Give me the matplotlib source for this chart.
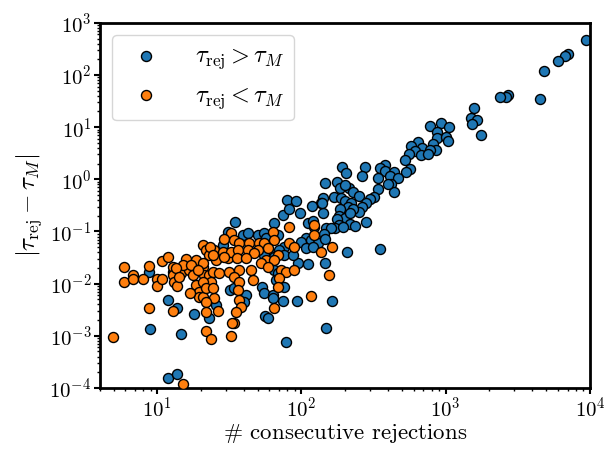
import matplotlib
matplotlib.use("Agg")
import matplotlib.pyplot as plt
from matplotlib.ticker import NullFormatter
import numpy as np

plt.rcParams['font.family'] = 'serif'
plt.rcParams['font.serif'] = ['cmr10']
plt.rcParams['mathtext.fontset'] = 'cm'
plt.rcParams['axes.formatter.use_mathtext'] = True

# tau_rej > tau_M
blue_x = [9380, 7060, 6730, 5970, 4770, 4480, 2710, 2600, 2370, 1570,
          1510, 1650, 1530, 1770, 774, 923, 1050, 871, 874, 1010,
          1040, 822, 644, 574, 689, 857, 774, 617, 556, 674,
          754, 519, 381, 277, 192, 204, 262, 348, 377, 435,
          562, 527, 408, 466, 339, 415, 440, 397, 145, 177,
          186, 213, 226, 199, 169, 187, 250, 339, 321, 297,
          281, 202, 219, 211, 262, 250, 227, 186, 141, 137,
          142, 183, 202, 216, 176, 182, 172, 149, 161, 218,
          237, 281, 194, 144, 206, 348, 79.6, 91.8, 118, 138,
          74.1, 98.4, 64.9, 111, 120, 122, 34.7, 31.6, 39.1, 42.4,
          49.8, 55.4, 56.9, 68.4, 108, 99.5, 117, 130, 145, 107,
          120, 76.2, 70.3, 59.9, 64.9, 76.2, 94.2, 111, 145, 55.4,
          87.1, 64.3, 74.1, 68.4, 66.7, 76.2, 53.3, 55.4, 63.2, 32.1,
          34.3, 41.3, 40.2, 75.0, 92.7, 163, 56.2, 58.3, 149, 78.3,
          81.7, 8.80, 11.8, 13.8, 17.9, 23.0, 25.6, 8.87, 14.6, 28.4,
          30.8, 12.8, 11.8, 13.8, 63.2]
blue_y = [466, 258, 233, 187, 122, 35.3, 41.6, 37.6, 38.6, 23.1,
          15.3, 13.6, 11.4, 7.21, 10.6, 11.8, 9.9, 8.12, 6.31, 6.51,
          5.46, 4.84, 5.29, 4.32, 4.01, 3.72, 3.62, 3.56, 3.11, 2.98,
          3.03, 2.36, 1.89, 1.71, 1.71, 1.35, 1.18, 1.63, 1.47, 1.37,
          1.56, 1.37, 1.18, 1.05, 1.05, 0.817, 0.581, 0.817, 0.843, 0.904,
          0.693, 0.676, 0.581, 0.782, 0.454, 0.434, 0.488, 0.655, 0.467, 0.416,
          0.358, 0.391, 0.348, 0.300, 0.300, 0.240, 0.267, 0.267, 0.434, 0.358,
          0.224, 0.201, 0.180, 0.224, 0.172, 0.134, 0.115, 0.115, 0.115, 0.138,
          0.128, 0.152, 0.124, 0.0898, 0.0411, 0.0469, 0.403, 0.385, 0.309, 0.358,
          0.208, 0.230, 0.148, 0.148, 0.160, 0.124, 0.155, 0.0951, 0.0859, 0.0927,
          0.0859, 0.0927, 0.0743, 0.0859, 0.0743, 0.0640, 0.0689, 0.0596, 0.0711, 0.0478,
          0.0513, 0.0513, 0.0443, 0.0411, 0.0330, 0.0355, 0.0246, 0.0239, 0.0246, 0.0355,
          0.0355, 0.0183, 0.0170, 0.0158, 0.0118, 0.00875, 0.00875, 0.00663, 0.00607, 0.00757,
          0.00817, 0.00607, 0.00452, 0.00472, 0.00472, 0.00472, 0.00240, 0.00217, 0.00140, 0.000773,
          0.271, 0.0166, 0.00487, 0.00347, 0.00259, 0.00217, 0.00391, 0.00133, 0.00106, 0.0552,
          0.0993, 0.0170, 0.000157, 0.000185, 0.00525]

# tau_rej < tau_M
orange_x = [4.90, 5.91, 5.91, 6.84, 6.84, 7.91, 8.80, 9.89, 9.89, 10.8,
            10.8, 11.8, 12.8, 12.9, 13.1, 13.8, 14.6, 15.8, 16.7, 18.6,
            18.6, 19.6, 15.0, 17.1, 20.7, 21.2, 23.0, 24.2, 27.0, 23.6,
            20.7, 19.6, 20.7, 16.9, 24.9, 21.8, 8.80, 12.9, 21.8, 26.2,
            21.8, 23.6, 15.0, 20.7, 21.8, 23.0, 24.9, 27.0, 28.7, 25.6,
            30.8, 23.2, 24.2, 20.7, 82.5, 63.2, 123, 122, 32.5, 29.2,
            34.3, 37.1, 43.5, 51.1, 55.4, 64.9, 82.5, 89.3, 49.8, 58.3,
            32.5, 36.1, 42.4, 47.2, 29.2, 35.7, 41.3, 56.9, 68.4, 64.9,
            52.5, 58.3, 137, 162, 31.6, 37.1, 44.8, 45.9, 34.3, 37.1,
            72.3, 78.3, 70.3, 68.4, 89.3, 156, 117, 36.1, 37.1, 38.1,
            35.3, 64.9, 34.3, 33.0, 32.5, 13.5, 14.2, 17.6, 19.1, 21.8,
            24.2]
orange_y = [0.000962, 0.0205, 0.0106, 0.0147, 0.0123, 0.0121, 0.0221, 0.0123, 0.00903, 0.0123,
            0.0276, 0.0321, 0.0212, 0.0147, 0.0109, 0.00903, 0.0158, 0.0294, 0.0183, 0.0285,
            0.00944, 0.00703, 0.0229, 0.0229, 0.0212, 0.0147, 0.0147, 0.0170, 0.0158, 0.0109,
            0.0109, 0.00564, 0.00564, 0.00655, 0.00539, 0.00452, 0.00347, 0.00299, 0.00283, 0.00299,
            0.00124, 0.000869, 0.000118, 0.0552, 0.0443, 0.0355, 0.0443, 0.0330, 0.0411, 0.0285,
            0.0307, 0.0499, 0.0355, 0.0246, 0.121, 0.0993, 0.134, 0.0859, 0.0927, 0.0711,
            0.0689, 0.0611, 0.0611, 0.0596, 0.0596, 0.0689, 0.0596, 0.0513, 0.0443, 0.0478,
            0.0411, 0.0443, 0.0443, 0.0383, 0.0330, 0.0307, 0.0307, 0.0285, 0.0355, 0.0285,
            0.0246, 0.0212, 0.0411, 0.0513, 0.0170, 0.0183, 0.0183, 0.0118, 0.0136, 0.0109,
            0.0183, 0.0170, 0.0127, 0.00875, 0.0183, 0.0147, 0.00581, 0.00757, 0.00487, 0.00362,
            0.00290, 0.00338, 0.00174, 0.00174, 0.00101, 0.0197, 0.0136, 0.0147, 0.0183, 0.00817,
            0.00817]

x_ticks = [1e1, 1e2, 1e3, 1e4]
y_ticks = [1e-4, 1e-3, 1e-2, 1e-1, 1e0, 1e1, 1e2, 1e3]

fig = plt.figure(figsize=(6.05, 4.49), dpi=100)
ax = fig.add_axes([0.165, 0.136, 0.81, 0.813])

ax.scatter(blue_x, blue_y, s=52, c='C0', edgecolors='k', linewidths=1,
           label=r'$\tau_{\rm rej} > \tau_M$', zorder=2)
ax.scatter(orange_x, orange_y, s=52, c='C1', edgecolors='k', linewidths=1,
           label=r'$\tau_{\rm rej} < \tau_M$', zorder=3)

ax.set_xscale('log')
ax.set_yscale('log')
ax.set_xticks(x_ticks)
ax.set_yticks(y_ticks)
ax.set_xlim(4, 1e4)
ax.set_ylim(1e-4, 1e3)
ax.xaxis.set_minor_formatter(NullFormatter())
ax.yaxis.set_minor_formatter(NullFormatter())

ax.set_xlabel(r'$\#$ consecutive rejections', fontsize=16.5, labelpad=1)
ax.set_ylabel(r'$|\tau_{\rm rej} - \tau_M|$', fontsize=18)
ax.tick_params(axis='both', which='major', labelsize=15, width=1.5, length=4, pad=2)
ax.tick_params(axis='both', which='minor', width=1, length=2.5)
for sp in ax.spines.values():
    sp.set_linewidth(2)

ax.legend(loc='upper left', fontsize=17.5, handletextpad=1.0, borderpad=0.4,
          labelspacing=0.55, borderaxespad=0.5)

fig.savefig('out.png', dpi=100)
